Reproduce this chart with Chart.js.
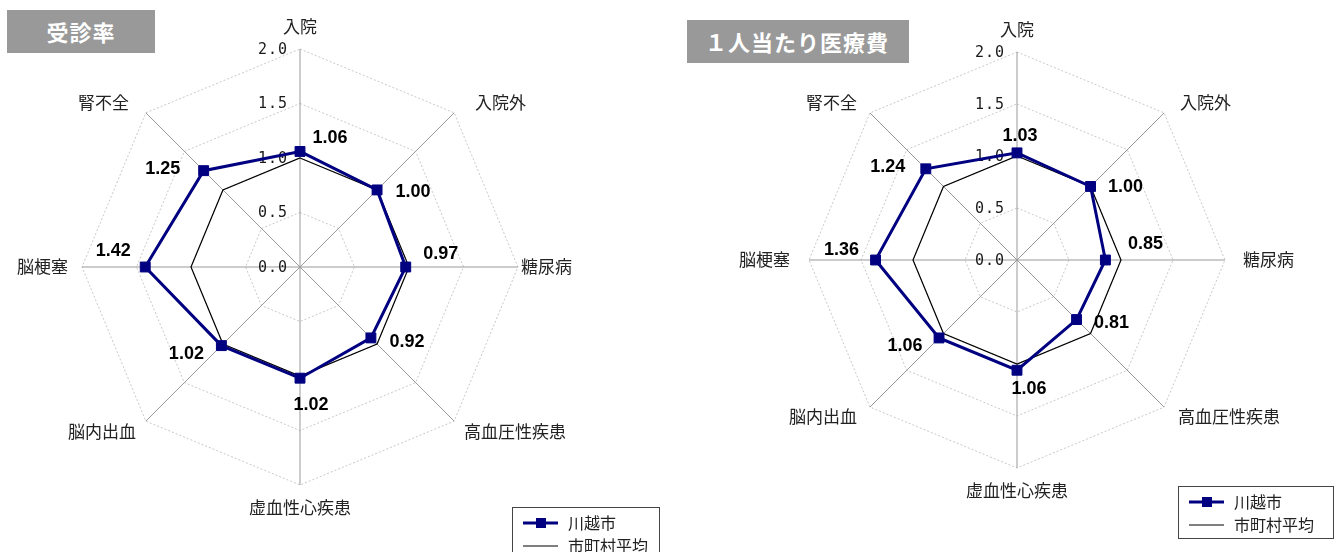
<!DOCTYPE html>
<html lang="ja">
<head>
    <meta charset="UTF-8">
    <title>受診率・1人当たり医療費</title>
    <script src="https://cdn.jsdelivr.net/npm/chart.js"></script>
    <style>
        body {
            margin: 0;
            background: #fff;
            font-family: "Noto Sans CJK JP", sans-serif;
        }
        .panel {
            position: absolute;
            top: 0;
            width: 670px;
            height: 552px;
        }
        .title {
            position: absolute;
            background: #999;
            color: #fff;
            font-weight: bold;
            font-size: 22px;
            line-height: 43px;
            height: 43px;
            letter-spacing: 1px;
            white-space: nowrap;
        }
    </style>
</head>
<body>
    <div class="panel" style="left:0">
        <canvas id="visitChart" width="670" height="552"></canvas>
        <div class="title" style="left:7px; top:10px; width:148px; text-align:center;">受診率</div>
    </div>
    <div class="panel" style="left:670px">
        <canvas id="costChart" width="670" height="552"></canvas>
        <div class="title" style="left:17px; top:20px; width:204px; padding-left:18px;">１人当たり医療費</div>
    </div>

    <script>
        // disease categories, clockwise from the top
        const categories = ['入院', '入院外', '糖尿病', '高血圧性疾患', '虚血性心疾患', '脳内出血', '脳梗塞', '腎不全'];
        const seriesNames = ['川越市', '市町村平均'];
        const tickValues = [0, 0.5, 1.0, 1.5, 2.0];

        // ratio to the prefecture average
        const visitCity = [1.06, 1.00, 0.97, 0.92, 1.02, 1.02, 1.42, 1.25];
        const visitAvg = [1, 1, 1, 1, 1, 1, 1, 1];
        const costCity = [1.03, 1.00, 0.85, 0.81, 1.06, 1.06, 1.36, 1.24];
        const costAvg = [1, 1, 1, 1, 1, 1, 1, 1];

        // draws axis names, tick values, value labels and the legend box
        const radarText = {
            id: 'radarText',
            beforeDatasetsDraw(chart, args, opts) {
                const ctx = chart.ctx;
                const r = chart.scales.r;
                ctx.save();
                ctx.font = '17px "Noto Sans CJK JP"';
                ctx.fillStyle = '#222';
                chart.data.labels.forEach((name, i) => {
                    const p = r.getPointPosition(i, r.drawingArea + 14);
                    const dx = p.x - r.xCenter, dy = p.y - r.yCenter;
                    ctx.textAlign = Math.abs(dx) < 1 ? 'center' : (dx > 0 ? 'left' : 'right');
                    ctx.textBaseline = Math.abs(dx) < 1 ? (dy < 0 ? 'bottom' : 'top') : 'middle';
                    ctx.fillText(name, p.x + (opts.nameShift[i] || 0), p.y);
                });

                ctx.font = '15px "DejaVu Sans Mono"';
                ctx.letterSpacing = '1px';
                ctx.fillStyle = '#1a1a1a';
                ctx.textAlign = 'right';
                ctx.textBaseline = 'middle';
                tickValues.forEach(v => {
                    const y = r.yCenter - r.getDistanceFromCenterForValue(v);
                    ctx.fillText(v.toFixed(1), r.xCenter - 12, y + 1);
                });
                ctx.restore();
            },
            afterDatasetsDraw(chart, args, opts) {
                const ctx = chart.ctx;
                const meta = chart.getDatasetMeta(0);
                const ds = chart.data.datasets[0];
                ctx.save();
                ctx.font = 'bold 18px "Liberation Sans"';
                ctx.fillStyle = '#000';
                ctx.textAlign = 'center';
                ctx.textBaseline = 'middle';
                meta.data.forEach((pt, i) => {
                    const [ox, oy] = opts.valueOffsets[i];
                    ctx.fillText(ds.data[i].toFixed(2), pt.x + ox, pt.y + oy);
                });

                // legend
                const lg = opts.legend;
                ctx.strokeStyle = '#444';
                ctx.lineWidth = 1;
                ctx.strokeRect(lg.x + 0.5, lg.y + 0.5, lg.w, lg.h);
                ctx.font = '16px "Noto Sans CJK JP"';
                ctx.textAlign = 'left';
                ctx.fillStyle = '#222';
                chart.data.datasets.forEach((d, k) => {
                    const y = lg.y + 16 + k * 23;
                    ctx.strokeStyle = d.borderColor;
                    ctx.lineWidth = d.borderWidth;
                    ctx.beginPath();
                    ctx.moveTo(lg.x + 11, y);
                    ctx.lineTo(lg.x + 46, y);
                    ctx.stroke();
                    if (d.pointRadius > 0) {
                        ctx.fillStyle = d.backgroundColor;
                        ctx.fillRect(lg.x + 24, y - 5, 10, 10);
                    }
                    ctx.fillStyle = '#222';
                    ctx.fillText(d.label, lg.x + 56, y);
                });
                ctx.restore();
            }
        };

        function makeRadar(id, cityData, avgData, padding, textOpts) {
            return new Chart(document.getElementById(id), {
                type: 'radar',
                data: {
                    labels: categories,
                    datasets: [
                        {
                            label: seriesNames[0],
                            data: cityData,
                            borderColor: '#000080',
                            backgroundColor: '#000080',
                            borderWidth: 3,
                            pointStyle: 'rect',
                            pointRadius: 7,
                            pointBorderWidth: 1,
                            fill: false
                        },
                        {
                            label: seriesNames[1],
                            data: avgData,
                            borderColor: '#000',
                            backgroundColor: '#000',
                            borderWidth: 1.2,
                            pointRadius: 0,
                            fill: false
                        }
                    ]
                },
                options: {
                    responsive: false,
                    animation: false,
                    layout: { padding: padding },
                    scales: {
                        r: {
                            min: 0,
                            max: 2,
                            ticks: { stepSize: 0.5, display: false },
                            pointLabels: { display: false },
                            grid: { color: '#c8c8c8', lineWidth: 1 },
                            border: { dash: [2, 2] },
                            angleLines: { color: '#999', lineWidth: 1 }
                        }
                    },
                    plugins: {
                        legend: { display: false },
                        tooltip: { enabled: false },
                        radarText: textOpts
                    }
                },
                plugins: [radarText]
            });
        }

        makeRadar('visitChart', visitCity, visitAvg,
            { left: 82, right: 152, top: 49, bottom: 67 },
            {
                nameShift: [0, 11, -11, 0, 0, 0, 0, -7],
                valueOffsets: [[30, -13], [36, 2], [35, -13], [36, 4], [11, 27], [-35, 8], [-32, -16], [-41, -2]],
                legend: { x: 512, y: 507, w: 147, h: 60 }
            });

        makeRadar('costChart', costCity, costAvg,
            { left: 139, right: 115, top: 52, bottom: 84 },
            {
                nameShift: [0, 6, 4, 4, 0, -3, -5, -3],
                valueOffsets: [[3, -17], [35, 1], [40, -16], [35, 3], [12, 19], [-34, 8], [-34, -10], [-38, -2]],
                legend: { x: 508, y: 486, w: 155, h: 52 }
            });
    </script>
</body>
</html>
